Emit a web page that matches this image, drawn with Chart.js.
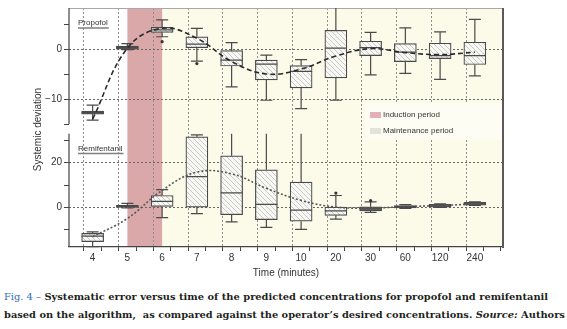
<!DOCTYPE html>
<html>
<head>
<meta charset="utf-8">
<script src="https://cdn.jsdelivr.net/npm/chart.js@4.4.1/dist/chart.umd.min.js"></script>
<style>
  html, body { margin: 0; padding: 0; background: #fff; }
  body { width: 567px; height: 329px; position: relative; overflow: hidden; }
  #wrap { position: absolute; left: 0; top: 0; width: 567px; height: 282px; }
  .cap { position: absolute; left: 4px; white-space: nowrap; line-height: 13px;
         font-family: "DejaVu Serif", "Liberation Serif", serif; font-weight: bold; color: #231f20; }
  .cap .fig { color: #2f6db5; font-weight: normal; }
  #cap1 { top: 290px; }
  #cap2 { top: 308px; }
</style>
</head>
<body>
<div id="wrap"><canvas id="errChart"></canvas></div>
<div class="cap" id="cap1"><span class="fig">Fig. 4 –</span> Systematic error versus time of the predicted concentrations for propofol and remifentanil</div>
<div class="cap" id="cap2">based on the algorithm,&nbsp; as compared against the operator’s desired concentrations. <i>Source:</i> Authors</div>
<script>
// time points (minutes)
const categories = ['4', '5', '6', '7', '8', '9', '10', '20', '30', '60', '120', '240'];

// propofol box plots
const propLow  = [-14.2, 0.0, 2.6, -2.3, -7.5, -10.2, -11.9, -10.2, -5.1, -4.8, -6.0, -5.3];
const propQ1   = [-13.0, 0.1, 3.5,  0.4, -3.3,  -6.1,  -7.7,  -5.7, -1.2, -2.4, -1.8, -3.0];
const propMed  = [-12.7, 0.4, 4.0,  1.1, -2.1,  -2.9,  -4.4,   0.3,  0.4, -0.5, -1.2, -1.2];
const propQ3   = [-12.4, 0.7, 4.5,  2.6, -0.2,  -2.1,  -3.2,   3.9,  1.7,  1.2,  1.3,  1.5];
const propHigh = [-11.2, 1.2, 6.0,  4.3,  1.4,  -1.1,  -2.0,   9.0,  3.5,  4.4,  3.6,  6.1];
const propOut  = [null, null, 1.6, -2.8, null, null, null, null, null, null, null, null];
const propCurve = [-14.0, 0.3, 4.3, 2.3, -2.4, -4.9, -3.9, -1.3, 0.2, -0.6, -1.0, -0.5];

// remifentanil box plots
const remiLow  = [-17.6, -0.3, -4.6, -2.8, -6.5, -9.0, -9.9, -5.3, -2.3, -0.5, 0.0, 0.8];
const remiQ1   = [-15.4, -0.1,  0.4,  0.1, -3.3, -5.5, -6.2, -3.6, -1.6, -0.3, 0.1, 1.0];
const remiMed  = [-12.9,  0.4,  2.7, 13.8,  6.5,  1.3, -1.3, -1.6, -0.7,  0.3, 0.7, 1.6];
const remiQ3   = [-11.7,  0.9,  5.3, 31.6, 23.1, 16.8, 11.3,  0.1,  0.2,  0.8, 1.3, 2.2];
const remiHigh = [-11.0,  1.8,  7.9, 32.5, 36.0, 36.0, 36.0,  5.3,  2.4,  1.2, 1.6, 2.5];
const remiOut  = [null, null, null, null, null, null, null, 6.4, 3.0, null, null, null];
const remiCurve = [-13.2, -5.0, 7.6, 15.8, 15.0, 8.5, 3.1, 0.1, -0.3, 0.3, 0.8, 1.5];

// y ticks and visible panel limits
const propTicksLabeled = [0, -10];
const remiTicksLabeled = [20, 0];
const propAxisBottom = -15;
const remiAxisTop = 33;

// periods and texts
const inductionSpan = ['5', '6'];
const maintenanceStart = '6';
const legendLabels = ['Induction period', 'Maintenance period'];
const panelLabels = ['Propofol', 'Remifentanil'];

const FONT = 'Liberation Sans, Arial, Helvetica, sans-serif';
Chart.defaults.font.family = FONT;
Chart.defaults.font.size = 10;
Chart.defaults.color = '#333';

function makeHatch() {
    const c = document.createElement('canvas');
    c.width = 5; c.height = 5;
    const g = c.getContext('2d');
    g.fillStyle = '#f7f7f3';
    g.fillRect(0, 0, 5, 5);
    g.strokeStyle = '#c9c9c6';
    g.lineWidth = 1;
    g.beginPath();
    g.moveTo(0, 0); g.lineTo(5, 5);
    g.moveTo(-1, 4); g.lineTo(1, 6);
    g.moveTo(4, -1); g.lineTo(6, 1);
    g.stroke();
    return g.createPattern(c, 'repeat');
}
const hatch = makeHatch();

// very flat boxes are drawn solid grey
function boxFill(ctx) {
    const raw = ctx.raw;
    if (!raw || !Array.isArray(raw.y)) return hatch;
    const s = ctx.chart.scales[ctx.dataset.yAxisID];
    if (!s) return hatch;
    const h = Math.abs(s.getPixelForValue(raw.y[0]) - s.getPixelForValue(raw.y[1]));
    return h < 4.6 ? '#737373' : hatch;
}

const boxData = (q1, q3) => q1.map((v, i) => ({ x: i, y: [v, q3[i]] }));
const curveData = (vals) => vals.map((v, i) => ({ x: i, y: v }));
const fmtTick = (v) => (v < 0 ? '\u2212' + Math.abs(v) : String(v));

const boxPlots = {
    id: 'boxPlots',
    beforeDraw(chart) {
        const { ctx, chartArea: a, scales: { x } } = chart;
        const i0 = x.getPixelForValue(categories.indexOf(inductionSpan[0]));
        const i1 = x.getPixelForValue(categories.indexOf(inductionSpan[1]));
        const m0 = x.getPixelForValue(categories.indexOf(maintenanceStart));
        ctx.save();
        ctx.fillStyle = '#ffffff';
        ctx.fillRect(a.left, a.top, a.width, a.height);
        ctx.fillStyle = '#fcfbea';
        ctx.fillRect(m0, a.top, a.right - m0, a.height);
        ctx.fillStyle = '#dba8aa';
        ctx.fillRect(i0, a.top, i1 - i0, a.height);
        ctx.restore();
    },
    beforeDatasetsDraw(chart) {
        const { ctx, chartArea: a, scales } = chart;
        const yP = scales.yP, yR = scales.yR;
        ctx.save();
        // frame top + left axis pieces
        ctx.strokeStyle = '#a8a8a8';
        ctx.lineWidth = 1;
        ctx.beginPath();
        ctx.moveTo(a.left, a.top + 0.5); ctx.lineTo(a.right, a.top + 0.5);
        ctx.stroke();
        ctx.strokeStyle = '#444';
        ctx.lineWidth = 1.2;
        ctx.beginPath();
        ctx.moveTo(a.left, yP.top); ctx.lineTo(a.left, yP.getPixelForValue(propAxisBottom));
        ctx.moveTo(a.left, yR.getPixelForValue(remiAxisTop)); ctx.lineTo(a.left, yR.bottom);
        ctx.stroke();

        // legend box
        const lx = a.right - 138, ly = a.top + 95;
        ctx.fillStyle = '#fdfdf4';
        ctx.fillRect(lx, ly, 138, 37);
        const swatch = ['#e3b1b5', '#e2e4da'];
        ctx.font = '8px ' + FONT;
        ctx.textBaseline = 'middle';
        ctx.textAlign = 'left';
        legendLabels.forEach((t, k) => {
            const cy = ly + 12 + k * 16;
            ctx.fillStyle = swatch[k];
            ctx.fillRect(lx + 5, cy - 3, 11, 6);
            ctx.fillStyle = '#333';
            ctx.fillText(t, lx + 18, cy);
        });

        // panel labels
        ctx.font = '8px ' + FONT;
        const spots = [[a.left + 9, yP.top + 15], [a.left + 9, yR.top + 19]];
        panelLabels.forEach((t, k) => {
            const [px, py] = spots[k];
            ctx.fillStyle = '#333';
            ctx.fillText(t, px, py);
            const w = ctx.measureText(t).width;
            ctx.strokeStyle = '#808080';
            ctx.lineWidth = 1.5;
            ctx.beginPath();
            ctx.moveTo(px, py + 5); ctx.lineTo(px + w + 1, py + 5);
            ctx.stroke();
        });
        ctx.restore();
    },
    afterDatasetDraw(chart, args) {
        const ds = chart.data.datasets[args.index];
        const st = ds.stats;
        if (!st) return;
        const ctx = chart.ctx;
        const xs = chart.scales.x, ys = chart.scales[ds.yAxisID];
        const top = st.clipTop != null ? st.clipTop : ys.max;
        ctx.save();
        ctx.strokeStyle = '#4a4a4a';
        ctx.lineWidth = 1.2;
        st.q1.forEach((q1, i) => {
            const x = xs.getPixelForValue(i);
            const clipped = st.high[i] > top;
            const yHi = ys.getPixelForValue(Math.min(st.high[i], top));
            const yLo = ys.getPixelForValue(st.low[i]);
            const yQ1 = ys.getPixelForValue(q1);
            const yQ3 = ys.getPixelForValue(st.q3[i]);
            const yMed = ys.getPixelForValue(st.med[i]);
            ctx.beginPath();
            ctx.moveTo(x, yQ3); ctx.lineTo(x, yHi);
            ctx.moveTo(x, yQ1); ctx.lineTo(x, yLo);
            if (!clipped) { ctx.moveTo(x - 6, yHi); ctx.lineTo(x + 6, yHi); }
            ctx.moveTo(x - 6, yLo); ctx.lineTo(x + 6, yLo);
            ctx.moveTo(x - 11, yMed); ctx.lineTo(x + 11, yMed);
            ctx.stroke();
            if (st.out[i] != null) {
                ctx.fillStyle = '#333';
                ctx.beginPath();
                ctx.arc(x, ys.getPixelForValue(st.out[i]), 1.6, 0, Math.PI * 2);
                ctx.fill();
            }
        });
        ctx.restore();
    },
    afterDraw(chart) {
        const { ctx, chartArea: a } = chart;
        ctx.save();
        ctx.strokeStyle = '#5a5a5a';
        ctx.lineWidth = 2;
        ctx.beginPath();
        ctx.moveTo(a.right, a.top); ctx.lineTo(a.right, a.bottom + 1);
        ctx.stroke();
        ctx.translate(38, (a.top + a.bottom) / 2 + 2);
        ctx.rotate(-Math.PI / 2);
        ctx.font = '10px ' + FONT;
        ctx.fillStyle = '#333';
        ctx.textAlign = 'center';
        ctx.textBaseline = 'middle';
        ctx.fillText('Systemic deviation', 0, 0);
        ctx.restore();
    }
};

const canvas = document.getElementById('errChart');
new Chart(canvas, {
    data: {
        datasets: [
            {
                type: 'line', label: 'Propofol', yAxisID: 'yP', data: curveData(propCurve),
                borderColor: '#2a2a2a', borderWidth: 1.6, borderDash: [5, 3],
                pointRadius: 0, tension: 0.4, fill: false, order: 0,
            },
            {
                type: 'line', label: 'Remifentanil', yAxisID: 'yR', data: curveData(remiCurve),
                borderColor: '#555', borderWidth: 1.6, borderDash: [2, 2],
                pointRadius: 0, tension: 0.4, fill: false, order: 0,
            },
            {
                type: 'bar', label: 'Propofol boxes', yAxisID: 'yP', data: boxData(propQ1, propQ3),
                backgroundColor: boxFill, borderColor: '#4a4a4a', borderWidth: 1.2,
                borderSkipped: false, barThickness: 22, grouped: false, order: 1,
                stats: { low: propLow, q1: propQ1, med: propMed, q3: propQ3, high: propHigh, out: propOut },
            },
            {
                type: 'bar', label: 'Remifentanil boxes', yAxisID: 'yR', data: boxData(remiQ1, remiQ3),
                backgroundColor: boxFill, borderColor: '#4a4a4a', borderWidth: 1.2,
                borderSkipped: false, barThickness: 22, grouped: false, order: 1,
                stats: { low: remiLow, q1: remiQ1, med: remiMed, q3: remiQ3, high: remiHigh, out: remiOut, clipTop: remiAxisTop },
            },
        ],
    },
    options: {
        responsive: true,
        maintainAspectRatio: false,
        animation: false,
        layout: { padding: { left: 0, right: 64, top: 6, bottom: 0 } },
        plugins: { legend: { display: false }, tooltip: { enabled: false } },
        scales: {
            x: {
                type: 'linear', min: -0.42, max: 11.55,
                afterBuildTicks: (s) => {
                    const t = [];
                    for (let k = 0; k <= 23; k++) t.push({ value: k / 2 });
                    s.ticks = t;
                },
                ticks: {
                    autoSkip: false, maxRotation: 0, padding: 1,
                    callback: (v) => (Number.isInteger(v) ? categories[v] : ''),
                },
                grid: {
                    color: (c) => (c.tick && Number.isInteger(c.tick.value) ? '#8d8d8d' : 'rgba(0,0,0,0)'),
                    tickColor: '#444', tickLength: 4, lineWidth: 1,
                },
                border: { color: '#444', width: 1.2, dash: [2, 2] },
                title: { display: true, text: 'Time (minutes)', padding: { top: 0, bottom: 3 }, font: { size: 10 } },
                afterFit: (s) => { s.height = 35; },
            },
            yP: {
                type: 'linear', position: 'left', stack: 'dev', stackWeight: 122.5, weight: 1,
                min: -16.1, max: 8.4,
                ticks: {
                    stepSize: 5, includeBounds: false, padding: 2,
                    callback: (v) => (propTicksLabeled.includes(v) ? fmtTick(v) : ''),
                },
                grid: {
                    color: (c) => (c.tick && propTicksLabeled.includes(c.tick.value) ? '#666' : 'rgba(0,0,0,0)'),
                    tickColor: '#444', tickLength: 5,
                },
                border: { display: false, dash: [2, 2] },
                afterFit: (s) => { s.width = 69; },
            },
            yR: {
                type: 'linear', position: 'left', stack: 'dev', stackWeight: 118.5, weight: 0,
                min: -17.8, max: 34.9,
                ticks: {
                    stepSize: 10, includeBounds: false, padding: 2,
                    callback: (v) => (remiTicksLabeled.includes(v) ? fmtTick(v) : ''),
                },
                grid: {
                    color: (c) => (c.tick && remiTicksLabeled.includes(c.tick.value) ? '#666' : 'rgba(0,0,0,0)'),
                    tickColor: '#444', tickLength: 5,
                },
                border: { display: false, dash: [2, 2] },
                afterFit: (s) => { s.width = 69; },
            },
        },
    },
    plugins: [boxPlots],
});

// caption: same size on both lines, justified to the page width
(function () {
    const c1 = document.getElementById('cap1');
    const c2 = document.getElementById('cap2');
    c1.style.fontSize = '10px';
    const w1 = c1.getBoundingClientRect().width;
    const size = Math.min(10, 10 * 544 / w1);
    [[c1, 544], [c2, 559]].forEach(([el, target]) => {
        el.style.fontSize = size.toFixed(2) + 'px';
        el.style.wordSpacing = '0px';
        const w = el.getBoundingClientRect().width;
        const gaps = (el.textContent.match(/ /g) || []).length;
        el.style.wordSpacing = Math.max(0, (target - w) / gaps).toFixed(2) + 'px';
    });
})();
</script>
</body>
</html>
